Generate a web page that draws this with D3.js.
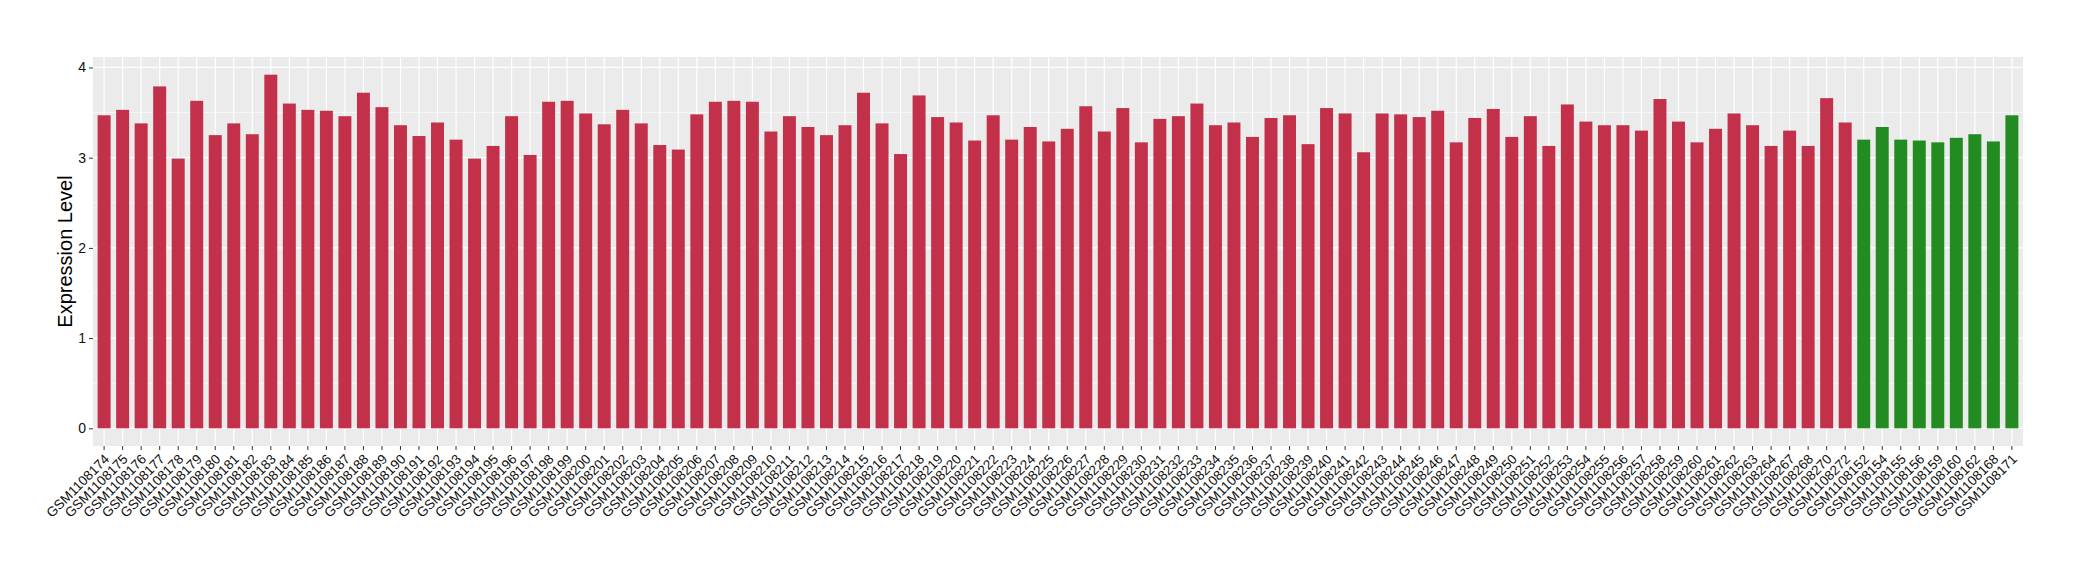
<!DOCTYPE html>
<html>
<head>
<meta charset="utf-8">
<script src="https://cdn.jsdelivr.net/npm/d3@7"></script>
<style>
  body { margin: 0; background: #fff; }
  text { font-family: "Liberation Sans", Arial, sans-serif; }
</style>
</head>
<body>
<div id="chart"></div>
<script>
// samples in the first (red) group
const redSamples = [
  "GSM1108174","GSM1108175","GSM1108176","GSM1108177","GSM1108178","GSM1108179","GSM1108180","GSM1108181",
  "GSM1108182","GSM1108183","GSM1108184","GSM1108185","GSM1108186","GSM1108187","GSM1108188","GSM1108189",
  "GSM1108190","GSM1108191","GSM1108192","GSM1108193","GSM1108194","GSM1108195","GSM1108196","GSM1108197",
  "GSM1108198","GSM1108199","GSM1108200","GSM1108201","GSM1108202","GSM1108203","GSM1108204","GSM1108205",
  "GSM1108206","GSM1108207","GSM1108208","GSM1108209","GSM1108210","GSM1108211","GSM1108212","GSM1108213",
  "GSM1108214","GSM1108215","GSM1108216","GSM1108217","GSM1108218","GSM1108219","GSM1108220","GSM1108221",
  "GSM1108222","GSM1108223","GSM1108224","GSM1108225","GSM1108226","GSM1108227","GSM1108228","GSM1108229",
  "GSM1108230","GSM1108231","GSM1108232","GSM1108233","GSM1108234","GSM1108235","GSM1108236","GSM1108237",
  "GSM1108238","GSM1108239","GSM1108240","GSM1108241","GSM1108242","GSM1108243","GSM1108244","GSM1108245",
  "GSM1108246","GSM1108247","GSM1108248","GSM1108249","GSM1108250","GSM1108251","GSM1108252","GSM1108253",
  "GSM1108254","GSM1108255","GSM1108256","GSM1108257","GSM1108258","GSM1108259","GSM1108260","GSM1108261",
  "GSM1108262","GSM1108263","GSM1108264","GSM1108267","GSM1108268","GSM1108270","GSM1108272"
];
const redValues = [
  3.47,3.53,3.38,3.79,2.99,3.63,3.25,3.38,
  3.26,3.92,3.60,3.53,3.52,3.46,3.72,3.56,
  3.36,3.24,3.39,3.20,2.99,3.13,3.46,3.03,
  3.62,3.63,3.49,3.37,3.53,3.38,3.14,3.09,
  3.48,3.62,3.63,3.62,3.29,3.46,3.34,3.25,
  3.36,3.72,3.38,3.04,3.69,3.45,3.39,3.19,
  3.47,3.20,3.34,3.18,3.32,3.57,3.29,3.55,
  3.17,3.43,3.46,3.60,3.36,3.39,3.23,3.44,
  3.47,3.15,3.55,3.49,3.06,3.49,3.48,3.45,
  3.52,3.17,3.44,3.54,3.23,3.46,3.13,3.59,
  3.40,3.36,3.36,3.30,3.65,3.40,3.17,3.32,
  3.49,3.36,3.13,3.30,3.13,3.66,3.39
];
// samples in the second (green) group
const greenSamples = [
  "GSM1108152","GSM1108154","GSM1108155","GSM1108156","GSM1108159",
  "GSM1108160","GSM1108162","GSM1108168","GSM1108171"
];
const greenValues = [3.20,3.34,3.20,3.19,3.17,3.22,3.26,3.18,3.47];

const yTicks = [0, 1, 2, 3, 4];
const yMinor = [0.5, 1.5, 2.5, 3.5];
const yTitle = "Expression Level";

const data = redSamples.map((s, i) => ({id: s, value: redValues[i], color: "#C3304A"}))
  .concat(greenSamples.map((s, i) => ({id: s, value: greenValues[i], color: "#228B22"})));

// set the dimensions and margins of the graph
const W = 2080, H = 580;
const margin = {top: 57, right: 57, bottom: 134, left: 93},
    width = W - margin.left - margin.right,
    height = H - margin.top - margin.bottom;

const svg = d3.select("#chart")
  .append("svg")
    .attr("width", W)
    .attr("height", H)
  .append("g")
    .attr("transform", `translate(${margin.left},${margin.top})`);

// X scale (ggplot-like discrete expansion)
const x = d3.scaleBand()
  .domain(data.map(d => d.id))
  .range([0, width])
  .paddingInner(0.3)
  .paddingOuter(0.25);

// Y scale with 5% expansion
const maxV = d3.max(data, d => d.value);
const y = d3.scaleLinear()
  .domain([-0.05 * maxV, 1.05 * maxV])
  .range([height, 0]);

// panel
svg.append("rect")
  .attr("width", width)
  .attr("height", height)
  .attr("fill", "#EBEBEB");

// minor grid
svg.selectAll(".minor")
  .data(yMinor)
  .join("line")
    .attr("x1", 0).attr("x2", width)
    .attr("y1", d => y(d)).attr("y2", d => y(d))
    .attr("stroke", "#fff")
    .attr("stroke-width", 0.6);

// major grid
svg.selectAll(".major")
  .data(yTicks)
  .join("line")
    .attr("x1", 0).attr("x2", width)
    .attr("y1", d => y(d)).attr("y2", d => y(d))
    .attr("stroke", "#fff")
    .attr("stroke-width", 1.2);

svg.selectAll(".vgrid")
  .data(data)
  .join("line")
    .attr("x1", d => x(d.id) + x.bandwidth() / 2)
    .attr("x2", d => x(d.id) + x.bandwidth() / 2)
    .attr("y1", 0).attr("y2", height)
    .attr("stroke", "#fff")
    .attr("stroke-width", 1.2);

// Bars
svg.selectAll(".bar")
  .data(data)
  .join("rect")
    .attr("x", d => x(d.id))
    .attr("width", x.bandwidth())
    .attr("y", d => y(d.value))
    .attr("height", d => y(0) - y(d.value))
    .attr("fill", d => d.color);

// Y axis
const yAxis = svg.append("g")
  .call(d3.axisLeft(y).tickValues(yTicks).tickSize(4).tickPadding(3).tickFormat(d3.format("d")));
yAxis.select(".domain").remove();
yAxis.selectAll(".tick line").attr("stroke", "#333").attr("stroke-width", 1);
yAxis.selectAll("text")
  .attr("font-size", "14px")
  .attr("fill", "#111")
  .style("font-family", "Liberation Sans, Arial, sans-serif");

// X axis
const xAxis = svg.append("g")
  .attr("transform", `translate(0,${height})`)
  .call(d3.axisBottom(x).tickSize(4).tickPadding(2));
xAxis.select(".domain").remove();
xAxis.selectAll(".tick line").attr("stroke", "#333").attr("stroke-width", 1);
xAxis.selectAll("text")
  .attr("font-size", "13.5px")
  .attr("fill", "#111")
  .style("font-family", "Liberation Sans, Arial, sans-serif")
  .style("text-anchor", "end")
  .attr("dy", "0")
  .attr("y", 0)
  .attr("transform", "translate(6,14) rotate(-45)");

// Y title
svg.append("text")
  .attr("transform", `translate(${-21},${height / 2}) rotate(-90)`)
  .attr("text-anchor", "middle")
  .attr("font-size", "20px")
  .attr("fill", "#000")
  .text(yTitle);
</script>
</body>
</html>
